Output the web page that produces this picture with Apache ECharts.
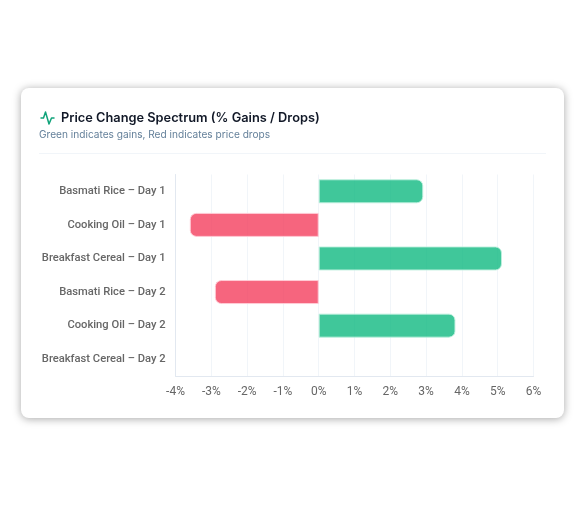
<!DOCTYPE html>
<html><head><meta charset="utf-8">
<script src="https://cdn.jsdelivr.net/npm/echarts@6/dist/echarts.min.js"></script>
<style>html,body{margin:0;padding:0;background:#fff}#c{width:585px;height:505px}</style>
</head><body><div id="c"></div>
<script>
const categories=["Basmati Rice – Day 1","Cooking Oil – Day 1","Breakfast Cereal – Day 1","Basmati Rice – Day 2","Cooking Oil – Day 2","Breakfast Cereal – Day 2"];
const changes=[2.92,-3.6,5.12,-2.9,3.82,0];
const titleText="Price Change Spectrum (% Gains / Drops)";
const subtitleText="Green indicates gains, Red indicates price drops";
const gainColor="rgba(16,185,129,0.8)",dropColor="rgba(244,63,94,0.8)";
const gainEdge="rgba(190,240,222,0.9)",dropEdge="rgba(255,205,215,0.9)";
const chart=echarts.init(document.getElementById('c'),null,{renderer:'canvas'});
chart.setOption({
 animation:false,
 backgroundColor:'#fff',
 grid:{left:175.5,right:51.5,top:174.5,bottom:129,containLabel:false},
 xAxis:{type:'value',min:-4,max:6,interval:1,
  axisLabel:{formatter:'{value}%',color:'#666',fontFamily:'Roboto',fontSize:12,margin:10,hideOverlap:false},
  axisLine:{show:true,onZero:false,lineStyle:{color:'#e2e8f0'}},axisTick:{show:false},
  splitLine:{show:true,lineStyle:{color:'#f1f5f9'}}},
 yAxis:{type:'category',inverse:true,data:categories,
  axisLabel:{color:'#666',fontFamily:'Roboto',fontSize:11.2,fontWeight:500,margin:10},
  axisLine:{show:true,onZero:false,lineStyle:{color:'#e2e8f0'}},axisTick:{show:false},splitLine:{show:false}},
 series:[{type:'bar',barWidth:24,z:3,
  data:changes.map(v=>v===0?null:{value:v,itemStyle:{
    color:v>0?gainColor:dropColor,borderColor:v>0?gainEdge:dropEdge,borderWidth:1,
    borderRadius:v>0?[0,6,6,0]:[6,0,0,6]}})}],
 graphic:[
  {type:'rect',z:-10,silent:true,shape:{x:21,y:88,width:543,height:330,r:8},
   style:{fill:'#fff',shadowBlur:8,shadowColor:'rgba(0,0,0,0.35)',shadowOffsetY:1}},
  {type:'line',z:-5,silent:true,shape:{x1:39,y1:153.5,x2:546,y2:153.5},style:{stroke:'#f1f5f9',lineWidth:1}},
  {type:'polyline',silent:true,shape:{points:[[41,118],[43.5,118],[45.5,112],[49,124],[51.5,118],[54,118]]},
   style:{fill:null,stroke:'#10a37a',lineWidth:1.5,lineJoin:'round',lineCap:'round'}},
  {type:'text',silent:true,x:61,y:112,style:{text:titleText,fill:'#111827',font:'600 12.8px Inter'}},
  {type:'text',silent:true,x:39,y:130,style:{text:subtitleText,fill:'#64809a',font:'400 10.15px Inter'}}
 ]
});
</script></body></html>
